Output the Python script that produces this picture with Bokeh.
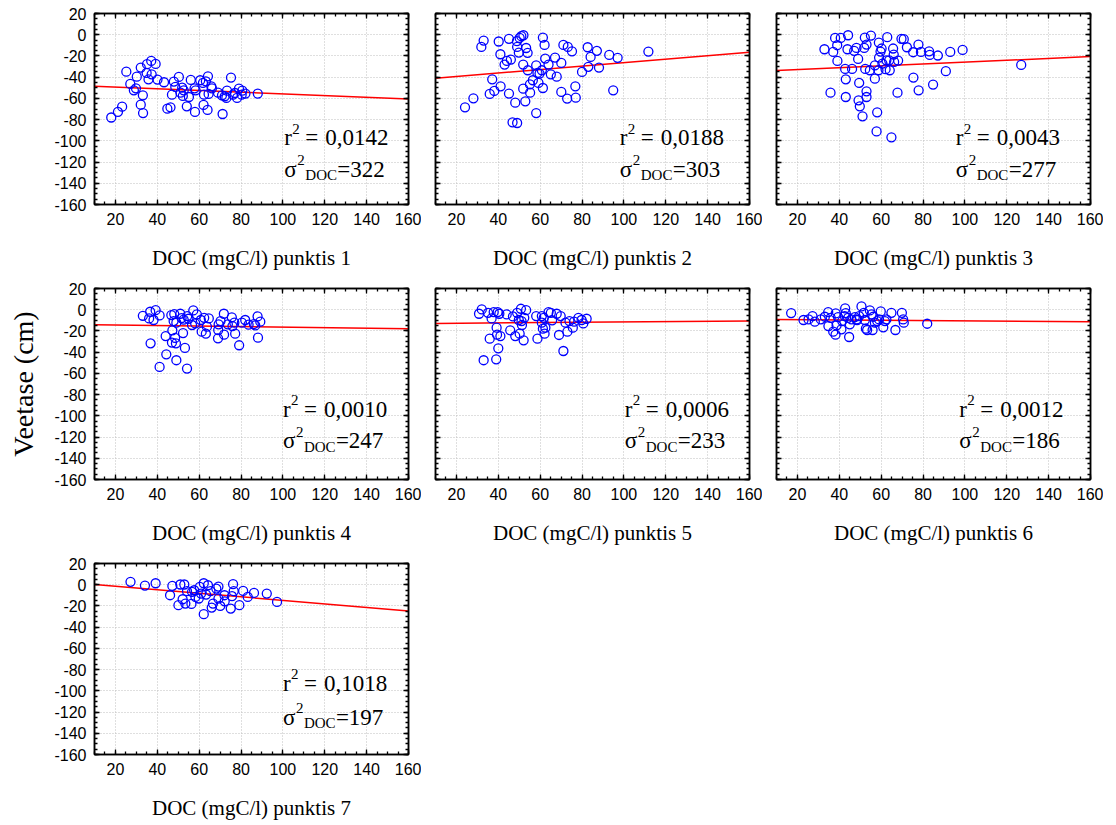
from bokeh.plotting import figure
from bokeh.layouts import column, row
from bokeh.models import Range1d, FixedTicker, LinearAxis, ColumnDataSource, PrintfTickFormatter
from bokeh.core.properties import value
from bokeh.embed import file_html
from bokeh.resources import INLINE

# ---------------- data ----------------
doc_1 = [18, 21.2, 23.2, 25.2, 27.1, 28.8, 29.8, 30.2, 32.1, 32.1, 33.1, 33.2, 35.1, 35.8, 34.9,
         37.1, 37.3, 39.2, 40.1, 43.2, 44.8, 46.3, 47, 47.9, 48.6, 50.3, 51.1, 51.9, 52.2, 52.6,
         54.1, 55.1, 56, 57.8, 58, 58.3, 60.5, 61.8, 62.1, 62.3, 63.2, 64, 64.2, 64.5, 65.8,
         66.1, 69, 71.2, 72.2, 73, 73.3, 75.2, 77.1, 78.1, 79, 80.6, 80.3, 82.1, 88, 70.9, 76.2]
depth_1 = [-78, -72.8, -67.8, -34.8, -46.4, -52.4, -50.5, -39.5, -31, -65.9, -57.1, -73.8, -27.8, -42, -36,
           -24.7, -37.3, -27.5, -42.3, -44.8, -69.7, -68.4, -56.5, -44.2, -49.2, -39.8, -54.6, -49.9, -57.7, -52.4,
           -67.5, -58.7, -42.6, -50.5, -72.8, -52.4, -42.9, -45.4, -66.2, -56.5, -43.9, -70.9, -39.2, -55.8, -48.6,
           -50.5, -54.6, -74.7, -58, -59.6, -52.7, -40.4, -54.9, -59.6, -50.8, -52.7, -56.5, -55.5, -55.5, -57.1, -56.5]

doc_2 = [24.1, 28.1, 31.9, 33, 37.1, 35.9, 38.1, 40.2, 41, 41.1, 43, 44.1, 45.1, 45.1, 46, 46.8, 48.1,
         49, 48.9, 49, 49.8, 50.2, 51, 52, 51.9, 51.9, 52.9, 53.3, 54, 54.1, 55.1, 55.2, 56.5, 58.1,
         58.1, 58.7, 59.2, 59.7, 60.8, 61.3, 61.3, 62.1, 62.4, 64, 65.1, 67.1, 67.9, 70.1, 70.1, 71.1,
         72.9, 73.2, 75.2, 76.8, 77, 80, 82.7, 83, 84.1, 87.1, 88.1, 93, 94.9, 97, 111.7]
depth_2 = [-68.4, -59.9, -11.5, -5.5, -42, -55.8, -53, -6.4, -18.4, -48.6, -28.1, -24.7, -3.9, -55.5, -23.4, -82.6, -64,
           -83.2, -6.1, -11.5, -16.8, -3, -1.4, -0.5, -28.1, -50.8, -62.8, -12.5, -17.1, -33.5, -46.7, -54.6, -42.9, -73.8,
           -28.8, -36, -45.4, -36.6, -33.5, -2.7, -50.2, -9.6, -22.5, -28.1, -37.3, -21.5, -39.5, -26.6, -53.9, -9.6,
           -60.2, -11.5, -15.6, -48.6, -59.3, -35.1, -11.8, -30.3, -20.9, -15.2, -31, -19, -52.4, -21.8, -15.9]

doc_3 = [32.9, 35.8, 37.1, 38, 39, 39.1, 40.7, 42.8, 43.1, 43.1, 43.9, 44.2, 46.1, 47.1, 48.2, 49, 49.5,
         49.2, 49.8, 51.1, 51.9, 52.2, 52.4, 53, 53, 53, 55.1, 54.6, 57, 57, 57.8, 58.1, 58.9, 59, 58.7,
         59.7, 60.2, 60.6, 62.1, 62.5, 62.9, 63.8, 64.1, 64.9, 65.7, 66, 66.2, 67.8, 68.1, 69.7, 70.8,
         72.3, 75.3, 75.4, 77.8, 77.9, 79, 82.9, 83.2, 84.8, 87.1, 90.9, 93, 98.9, 126.9]
depth_3 = [-13.7, -54.6, -16.2, -3, -9.9, -24.7, -3, -32.2, -42, -58.7, -13.7, -0.5, -32.2, -15.2, -12.4, -22.8, -45.4,
           -61.8, -67.5, -76.9, -12.4, -2.7, -32.2, -9.3, -53.3, -58.7, -0.8, -33.5, -41.4, -28.8, -91.1, -73.1, -7.4, -21.5, -33.5,
           -15.9, -13, -27.2, -32.5, -24.1, -2.3, -24.1, -33.5, -96.7, -13, -18.7, -25.6, -54.6, -24.4, -3.9, -4.2,
           -11.8, -16.5, -40.4, -9.3, -52.4, -16.2, -15.6, -19, -47, -19.6, -34.4, -16.2, -14.3, -28.5]

doc_4 = [33.1, 36.1, 36.6, 36.8, 38.2, 39.2, 41.1, 41.1, 44.3, 44, 46.7, 47, 47.2, 47.8, 48.1, 48.5, 48.9,
         49.1, 49.1, 51, 51.6, 52.3, 52.6, 53.2, 54.2, 54.3, 54.9, 56.6, 57.2, 58.1, 58.9, 60.8, 61.2, 62.4,
         63.2, 63.7, 64.6, 69, 69.1, 69.3, 70.2, 71.8, 71.9, 73.7, 75.6, 75.9, 76.8, 77.2, 79.1, 80.4, 82,
         83.6, 86.1, 87.9, 88.1, 89.2, 86.8]
depth_4 = [-5.7, -8.2, -1.9, -31.7, -9.7, -0.4, -5.4, -53.9, -42, -24.8, -5, -31, -19.5, -10.7, -4.1, -26.6, -31.7,
           -47.6, -12.2, -3.8, -7.9, -22, -9.4, -36, -55.5, -6, -8.5, -14.4, -0.7, -12.9, -4.4, -9.7, -20.7, -7.6,
           -22.6, -16, -8.2, -27, -19.1, -13.8, -10.7, -3.8, -23.5, -13.8, -7.2, -15.4, -12.2, -22.6, -33.5, -12.2, -9.7,
           -14.1, -13.5, -6.3, -26.3, -11.3, -14.8]

doc_5 = [30.8, 32.1, 33, 35.1, 35.9, 36.8, 37.8, 39, 39.2, 39.4, 39.7, 40, 40.5, 41, 44, 45.7, 47, 48.1,
         49, 49.8, 50.2, 50.8, 51.3, 52.1, 52.4, 53.3, 58.1, 58.7, 60.8, 61.3, 61.7, 62.1, 62.5, 64, 65.1,
         65.7, 67.9, 69, 69.8, 71.1, 72.1, 73, 74, 75.6, 76.2, 78.3, 79.8, 80.6, 82.2, 60.8, 51.1]
depth_5 = [-3.8, 0.3, -47.6, -2.9, -27.3, -8.2, -2.2, -46.7, -16.9, -23.5, -2.2, -36.4, -3.8, -24.8, -4.4, -19.4, -6.3, -24.8,
           -2.9, -9.7, -22.6, 0.9, -14.4, -28.8, -7.6, -0.4, -6, -27.3, -6, -17.9, -7.6, -22.6, -16.9, -2.2, -2.9,
           -10, -3.8, -23.8, -6, -38.9, -12.2, -20.7, -10.7, -16.9, -11.3, -7.6, -9.7, -12.9, -8.5, -12.2, -10.7]

doc_6 = [17, 22.9, 25.3, 27.2, 28.3, 31.2, 33.1, 34.7, 34.8, 35.9, 37.1, 38.2, 38.3, 38.7, 39.4, 41, 41.4,
         42.8, 43.1, 44.2, 44.7, 45, 45.8, 47.4, 48.5, 49.5, 50.6, 51.7, 52.2, 52.7, 53.3, 54.6, 55.4, 55.9,
         56.2, 57, 58.1, 59, 59.8, 61, 61.8, 62.5, 64.9, 66.8, 69.9, 70.5, 70.8, 82, 48.2, 42.6]
depth_6 = [-3.2, -9.7, -9.1, -6, -11.3, -9.1, -6.6, -2.2, -15.4, -7.6, -20.7, -23.5, -3.5, -14.8, -6.9, -18.5, -10.7,
           1.2, -3.2, -7.6, -25.7, -13.8, -9.1, -6.9, -9.7, -6, 3.1, -2.9, -9.7, -17.9, -19.1, -0.7, -4.4, -19.1,
           -6.6, -12.2, -10.7, -9.1, -1.6, -16.6, -10.7, -9.1, -2.9, -19.1, -2.9, -9.1, -12.2, -13.2, -9.1, -6]

doc_7 = [27.2, 34.1, 39.2, 46.1, 47.2, 50.1, 51, 52.1, 52.9, 53.4, 54.2, 56.3, 57.6, 59.8, 60.3, 60.9, 62.2,
         62.2, 63.3, 64.2, 65.4, 66, 66.6, 68.2, 69.2, 69.2, 70.1, 72.1, 72.2, 75.1, 75.7, 76.2, 76.5, 79.2,
         81, 83.2, 86.2, 92.3, 97.2, 56.6, 58.2]
depth_7 = [2.7, -0.8, 1.4, -9.9, -1.1, -19.3, 0.2, -13.7, 0.2, -17.8, -6.1, -18.1, -5.2, -13, -2, -8.3, 1.4,
           -27.8, -9.3, -0.5, -6.1, -21.5, -17.8, -3.6, -1.7, -13, -20, -9.9, -15.6, -22.5, -10.8, 0.5, -6.1, -19.3,
           -5.8, -11.5, -7.7, -8.3, -16.2, -6.7, -11.5]

fit_x = [10, 160]
fit_start = [-48.5, -41.0, -33.8, -14.1, -12.9, -9.1, 0.2]
fit_end = [-60.5, -16.5, -20.6, -17.9, -10.7, -11.3, -24.7]

r2_labels = ["0,0142", "0,0188", "0,0043", "0,0010", "0,0006", "0,0012", "0,1018"]
sigma_labels = ["322", "303", "277", "247", "233", "186", "197"]
x_titles = ["DOC (mgC/l) punktis %d" % k for k in range(1, 8)]
y_title = "Veetase (cm)"

x_ticks = [20, 40, 60, 80, 100, 120, 140, 160]
y_ticks = [-160, -140, -120, -100, -80, -60, -40, -20, 0, 20]

docs = [doc_1, doc_2, doc_3, doc_4, doc_5, doc_6, doc_7]
depths = [depth_1, depth_2, depth_3, depth_4, depth_5, depth_6, depth_7]

# annotation anchors (data coords) per panel
ann_x = [100.7, 98, 95.6, 100, 100.4, 97.3, 100]
ann_y1 = [-97, -97, -97, -94, -94, -94, -93]
ann_y2 = [-127, -127, -127, -123.5, -123.5, -123.5, -125]

SERIF = "Liberation Serif"
SANS = "Liberation Sans"
FRAME_W, FRAME_H = 314, 191


def style_axis(ax, ticks, minor, labels):
    ax.ticker = FixedTicker(ticks=ticks, minor_ticks=minor)
    ax.formatter = PrintfTickFormatter(format="%d")
    ax.axis_line_color = "black"
    ax.axis_line_width = 1.5
    ax.major_tick_in = 5
    ax.major_tick_out = 0
    ax.minor_tick_in = 3
    ax.minor_tick_out = 0
    ax.major_tick_line_color = "black"
    ax.major_tick_line_width = 1.3
    ax.minor_tick_line_color = "black"
    ax.minor_tick_line_width = 1.3
    if labels:
        ax.major_label_text_font = SANS
        ax.major_label_text_font_size = "16px"
        ax.major_label_text_color = "black"
        ax.major_label_standoff = 8
    else:
        ax.major_label_text_font_size = "0px"
        ax.major_label_text_color = None
        ax.major_label_standoff = 0


def make_panel(i, col):
    left = 94 if col == 0 else 14
    p = figure(frame_width=FRAME_W, frame_height=FRAME_H,
               x_range=Range1d(10, 160), y_range=Range1d(-160, 20),
               output_backend="svg", toolbar_location=None,
               min_border_left=left, min_border_right=13,
               min_border_top=13, min_border_bottom=71)
    p.background_fill_color = "white"
    p.border_fill_color = "white"
    p.outline_line_color = "black"
    p.outline_line_width = 1.5

    x_minor = list(range(10, 161, 5))
    y_minor = list(range(-160, 21, 5))
    style_axis(p.xaxis[0], x_ticks, x_minor, True)
    style_axis(p.yaxis[0], y_ticks, y_minor, col == 0)
    p.xaxis.axis_label = x_titles[i]
    p.xaxis.axis_label_text_font = SERIF
    p.xaxis.axis_label_text_font_size = "21px"
    p.xaxis.axis_label_text_font_style = "normal"
    p.xaxis.axis_label_text_color = "black"
    p.xaxis.axis_label_standoff = 18
    if i == 3:
        p.yaxis.axis_label = y_title
        p.yaxis.axis_label_text_font = SERIF
        p.yaxis.axis_label_text_font_size = "28px"
        p.yaxis.axis_label_text_font_style = "normal"
        p.yaxis.axis_label_text_color = "black"
        p.yaxis.axis_label_standoff = 12

    top = LinearAxis()
    style_axis(top, x_ticks, x_minor, False)
    p.add_layout(top, "above")
    right = LinearAxis()
    style_axis(right, y_ticks, y_minor, False)
    p.add_layout(right, "right")

    for g, tk in ((p.xgrid[0], x_ticks), (p.ygrid[0], y_ticks)):
        g.ticker = FixedTicker(ticks=tk)
        g.grid_line_color = "#bfbfbf"
        g.grid_line_dash = "1 2"
        g.grid_line_width = 1

    p.line(fit_x, [fit_start[i], fit_end[i]], line_color="#ff0000", line_width=1.5)
    p.scatter(docs[i], depths[i], marker="circle", size=9,
              fill_color=None, line_color="#0000ff", line_width=1.3)

    # annotations: r^2 line
    fs_main, fs_small = "23px", "15px"
    src = ColumnDataSource(dict(
        x=[ann_x[i]] * 4, y=[ann_y1[i]] * 4,
        t=["r", "2", "=", r2_labels[i]],
        dx=[0, 8, 21, 41], dy=[0, -9, 0, 0], fs=[fs_main, fs_small, fs_main, fs_main]))
    p.text(x="x", y="y", text="t", x_offset="dx", y_offset="dy", text_font_size="fs",
           source=src, text_font=value(SERIF), text_color="black",
           text_baseline="alphabetic", text_align="left")
    src2 = ColumnDataSource(dict(
        x=[ann_x[i]] * 4, y=[ann_y2[i]] * 4,
        t=["\u03c3", "2", "DOC", "=" + sigma_labels[i]],
        dx=[0, 13, 21, 53], dy=[0, -9, 6, 0], fs=[fs_main, fs_small, fs_small, fs_main]))
    p.text(x="x", y="y", text="t", x_offset="dx", y_offset="dy", text_font_size="fs",
           source=src2, text_font=value(SERIF), text_color="black",
           text_baseline="alphabetic", text_align="left")
    return p


panels = [make_panel(i, i % 3) for i in range(7)]
layout = column(row(*panels[0:3]), row(*panels[3:6]), row(panels[6]))
layout.spacing = 0
for r in layout.children:
    r.spacing = 0

open("out.html", "w").write(file_html(layout, INLINE))
